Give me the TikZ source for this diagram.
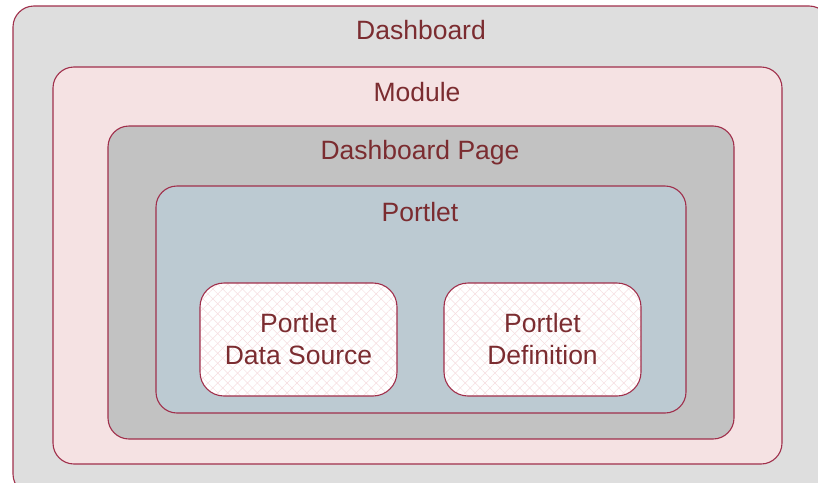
\documentclass[tikz,border=0pt]{standalone}
\usepackage{fontspec}
\setmainfont{Liberation Sans}
\usetikzlibrary{patterns.meta}

\definecolor{edge}{HTML}{A02F4B}
\definecolor{ink}{HTML}{7B2C30}
\definecolor{dashgray}{HTML}{DEDEDE}
\definecolor{modpink}{HTML}{F5E2E3}
\definecolor{pagegray}{HTML}{C2C2C2}
\definecolor{portblue}{HTML}{BCCAD2}
\definecolor{hatch}{HTML}{F6DDE0}

\tikzset{
  layer/.style={draw=edge, line width=1.1pt, rounded corners=21pt, inner sep=0pt},
  title/.style={text=ink, font=\fontsize{26.5}{31}\selectfont, anchor=center},
  part/.style={layer, rounded corners=24pt,
    preaction={fill=white},
    preaction={pattern={Lines[angle=45,distance=7pt,line width=0.5pt]}, pattern color=hatch},
    pattern={Lines[angle=-45,distance=7pt,line width=0.5pt]}, pattern color=hatch,
    minimum width=197pt, minimum height=113pt,
    text=ink, font=\fontsize{26.5}{32}\selectfont, align=center}
}

\begin{document}
\begin{tikzpicture}[x=1pt,y=-1pt]
\useasboundingbox (0,0) rectangle (818,482);
\clip (0,0) rectangle (818,482);

% nested containers, outermost first
\node[layer, fill=dashgray, minimum width=817pt, minimum height=489pt] (dashboard) at (421.5,250.5) {};
\node[title] at (421,30) {Dashboard};

\node[layer, fill=modpink, minimum width=729pt, minimum height=397pt] (module) at (417.5,265.5) {};
\node[title] at (417,92) {Module};

\node[layer, fill=pagegray, minimum width=626pt, minimum height=313pt] (page) at (421,282.5) {};
\node[title] at (420,152.5) {Dashboard Page};

\node[layer, fill=portblue, minimum width=530pt, minimum height=227pt] (portlet) at (421,299.5) {};
\node[title] at (420,212) {Portlet};

% the two parts inside a portlet
\node[part] (source) at (298.5,339.5) {Portlet\\Data Source};
\node[part] (definition) at (542.5,339.5) {Portlet\\Definition};

\end{tikzpicture}
\end{document}
